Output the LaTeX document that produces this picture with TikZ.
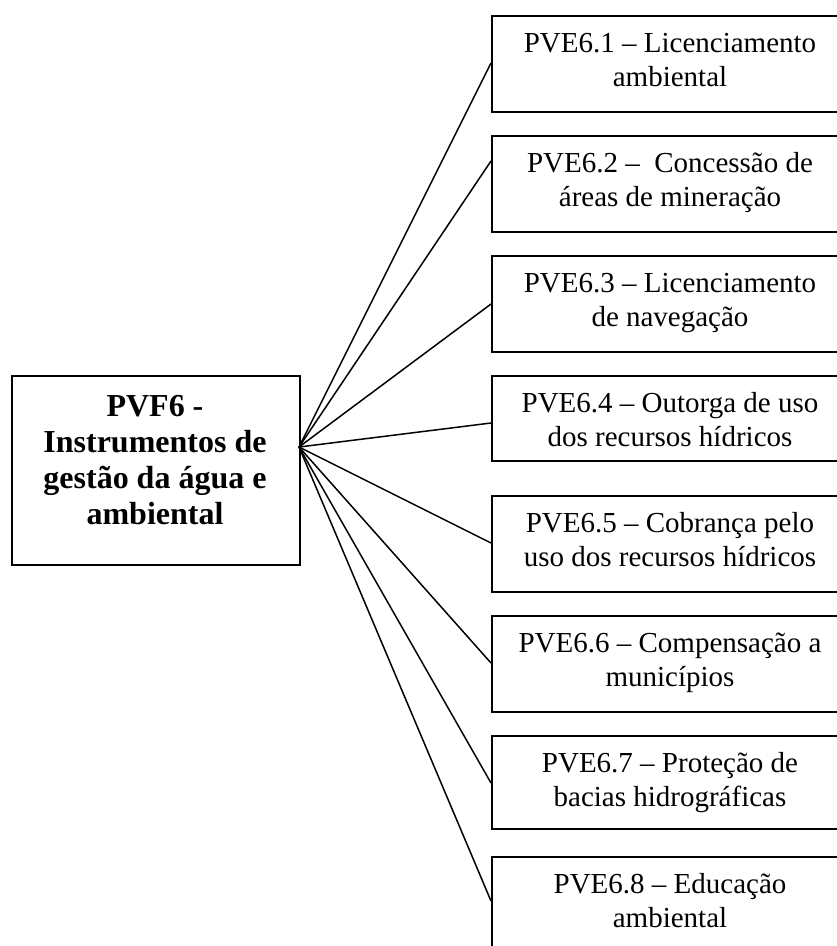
\documentclass[tikz,border=0pt]{standalone}
\usepackage{fontspec}
\setmainfont{Liberation Serif}
\begin{document}
\begin{tikzpicture}[x=1pt,y=-1pt,
  box/.style={draw=black,line width=2pt,minimum width=370pt,inner sep=0pt,anchor=north west},
  mainbox/.style={draw=black,line width=2pt,minimum width=288pt,minimum height=189pt,inner sep=0pt,anchor=north west},
  txt/.style={inner sep=0pt,align=center,anchor=north,font=\fontsize{29}{34}\selectfont},
  maintxt/.style={inner sep=0pt,align=center,anchor=north,font=\fontsize{32}{36}\selectfont\bfseries},
  link/.style={line width=1.5pt}]
\useasboundingbox (0,0) rectangle (837,946);
% main box
\node[mainbox] (L) at (11,375) {};
\node[maintxt] (Lt) at (155,392) {\rule{0pt}{24pt}PVF6 -\\Instrumentos de\\gestão da água e\\ambiental};
\coordinate (hub) at (299,447);
% right boxes
\node[box,minimum height=96pt] (b1) at (491,15) {};
\node[box,minimum height=96pt] (b2) at (491,135) {};
\node[box,minimum height=96pt] (b3) at (491,255) {};
\node[box,minimum height=85pt] (b4) at (491,375) {};
\node[box,minimum height=96pt] (b5) at (491,495) {};
\node[box,minimum height=96pt] (b6) at (491,615) {};
\node[box,minimum height=93pt] (b7) at (491,735) {};
\node[box,minimum height=120pt] (b8) at (491,856) {};
\node[txt] (t1) at (670,30.7) {\rule{0pt}{22pt}PVE6.1 – Licenciamento\\ambiental};
\node[txt] (t2) at (670,150.7) {\rule{0pt}{22pt}PVE6.2 –\ \ Concessão de\\áreas de mineração};
\node[txt] (t3) at (670,270.7) {\rule{0pt}{22pt}PVE6.3 – Licenciamento\\de navegação};
\node[txt] (t4) at (670,390.7) {\rule{0pt}{22pt}PVE6.4 – Outorga de uso\\dos recursos hídricos};
\node[txt] (t5) at (670,510.7) {\rule{0pt}{22pt}PVE6.5 – Cobrança pelo\\uso dos recursos hídricos};
\node[txt] (t6) at (670,630.7) {\rule{0pt}{22pt}PVE6.6 – Compensação a\\municípios};
\node[txt] (t7) at (670,750.7) {\rule{0pt}{22pt}PVE6.7 – Proteção de\\bacias hidrográficas};
\node[txt] (t8) at (670,871.7) {\rule{0pt}{22pt}PVE6.8 – Educação\\ambiental};
% connector end points on the left edges of the boxes
\coordinate (e1) at (b1.west |- 0,63);
\coordinate (e2) at (b2.west |- 0,161);
\coordinate (e3) at (b3.west |- 0,304);
\coordinate (e4) at (b4.west |- 0,423);
\coordinate (e5) at (b5.west |- 0,543);
\coordinate (e6) at (b6.west |- 0,663);
\coordinate (e7) at (b7.west |- 0,783);
\coordinate (e8) at (b8.west |- 0,901);
\foreach \i in {1,...,8} \draw[link] (hub) -- (e\i);
\end{tikzpicture}
\end{document}
